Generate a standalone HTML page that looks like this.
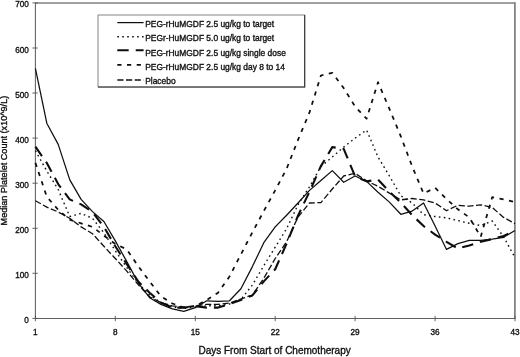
<!DOCTYPE html>
<html><head><meta charset="utf-8"><title>Median Platelet Count</title>
<style>
html,body{margin:0;padding:0;background:#fff;}
body{width:520px;height:357px;overflow:hidden;}
svg{display:block;}
text{font-family:"Liberation Sans", sans-serif;fill:#111;stroke:#111;stroke-width:0.34px;}
</style></head><body>
<svg width="520" height="357" viewBox="0 0 520 357">
<rect x="0" y="0" width="520" height="357" fill="#fff"/>
<defs><filter id="soft" x="0" y="0" width="520" height="357" filterUnits="userSpaceOnUse"><feGaussianBlur stdDeviation="0.32"/></filter></defs>
<g filter="url(#soft)">

<path d="M35.4 2.9 H514.9" fill="none" stroke="#808080" stroke-width="1.5"/>
<path d="M514.9 2.2 V318.4" fill="none" stroke="#7c7c7c" stroke-width="1.7"/>
<path d="M35.4 2.5 V318.4 H515.5" fill="none" stroke="#606060" stroke-width="1.05"/>
<line x1="32.4" x2="37.8" y1="318.4" y2="318.4" stroke="#555" stroke-width="0.9"/>
<text x="28.8" y="322.9" font-size="8.2" text-anchor="end">0</text>
<line x1="32.4" x2="37.8" y1="273.3" y2="273.3" stroke="#555" stroke-width="0.9"/>
<text x="28.8" y="277.8" font-size="8.2" text-anchor="end">100</text>
<line x1="32.4" x2="37.8" y1="228.3" y2="228.3" stroke="#555" stroke-width="0.9"/>
<text x="28.8" y="232.8" font-size="8.2" text-anchor="end">200</text>
<line x1="32.4" x2="37.8" y1="183.2" y2="183.2" stroke="#555" stroke-width="0.9"/>
<text x="28.8" y="187.7" font-size="8.2" text-anchor="end">300</text>
<line x1="32.4" x2="37.8" y1="138.1" y2="138.1" stroke="#555" stroke-width="0.9"/>
<text x="28.8" y="142.6" font-size="8.2" text-anchor="end">400</text>
<line x1="32.4" x2="37.8" y1="93.0" y2="93.0" stroke="#555" stroke-width="0.9"/>
<text x="28.8" y="97.5" font-size="8.2" text-anchor="end">500</text>
<line x1="32.4" x2="37.8" y1="48.0" y2="48.0" stroke="#555" stroke-width="0.9"/>
<text x="28.8" y="52.5" font-size="8.2" text-anchor="end">600</text>
<line x1="32.4" x2="37.8" y1="2.9" y2="2.9" stroke="#555" stroke-width="0.9"/>
<text x="28.8" y="7.4" font-size="8.2" text-anchor="end">700</text>
<line x1="35.4" x2="35.4" y1="315.8" y2="321.2" stroke="#555" stroke-width="0.9"/>
<text x="35.4" y="335.2" font-size="8.2" text-anchor="middle">1</text>
<line x1="115.3" x2="115.3" y1="315.8" y2="321.2" stroke="#555" stroke-width="0.9"/>
<text x="115.3" y="335.2" font-size="8.2" text-anchor="middle">8</text>
<line x1="195.3" x2="195.3" y1="315.8" y2="321.2" stroke="#555" stroke-width="0.9"/>
<text x="195.3" y="335.2" font-size="8.2" text-anchor="middle">15</text>
<line x1="275.2" x2="275.2" y1="315.8" y2="321.2" stroke="#555" stroke-width="0.9"/>
<text x="275.2" y="335.2" font-size="8.2" text-anchor="middle">22</text>
<line x1="355.1" x2="355.1" y1="315.8" y2="321.2" stroke="#555" stroke-width="0.9"/>
<text x="355.1" y="335.2" font-size="8.2" text-anchor="middle">29</text>
<line x1="435.1" x2="435.1" y1="315.8" y2="321.2" stroke="#555" stroke-width="0.9"/>
<text x="435.1" y="335.2" font-size="8.2" text-anchor="middle">36</text>
<line x1="515.0" x2="515.0" y1="315.8" y2="321.2" stroke="#555" stroke-width="0.9"/>
<text x="515.0" y="335.2" font-size="8.2" text-anchor="middle">43</text>
<text x="274.6" y="353.5" font-size="10" text-anchor="middle">Days From Start of Chemotherapy</text>
<text transform="translate(6.9,160.6) rotate(-90)" font-size="9.1" text-anchor="middle">Median Platelet Count (x10^9/L)</text>
<polyline points="35.4,200.8 46.8,207.1 58.2,212.0 69.7,218.3 81.1,226.9 92.5,233.7 103.9,246.3 115.3,258.5 126.8,271.1 138.2,284.6 149.6,296.8 161.0,302.6 172.4,305.8 183.8,307.1 195.3,305.8 206.7,304.4 218.1,304.4 229.5,303.1 240.9,299.0 252.4,295.0 263.8,278.3 275.2,258.5 286.6,241.8 298.0,217.0 309.5,203.0 320.9,202.6 332.3,189.0 343.7,176.0 355.1,173.3 366.6,180.9 378.0,186.3 389.4,193.1 400.8,199.9 412.2,198.5 423.6,199.9 435.1,203.0 446.5,210.7 457.9,205.3 469.3,206.2 480.7,204.8 492.2,207.5 503.6,217.4 515.0,223.7" fill="none" stroke="#111" stroke-linejoin="round" stroke-width="1.3" stroke-dasharray="6.2 2.5"/>
<polyline points="35.4,150.7 46.8,171.0 58.2,189.5 69.7,216.5 81.1,213.4 92.5,218.3 103.9,232.8 115.3,250.8 126.8,267.5 138.2,283.2 149.6,295.0 161.0,302.6 172.4,307.1 183.8,308.5 195.3,307.1 206.7,305.8 218.1,305.8 229.5,304.0 240.9,299.5 252.4,285.0 263.8,265.7 275.2,247.2 286.6,228.7 298.0,204.8 309.5,186.8 320.9,166.5 332.3,157.0 343.7,147.1 355.1,138.1 366.6,130.0 378.0,157.0 389.4,176.0 400.8,195.8 412.2,203.0 423.6,214.7 435.1,216.5 446.5,217.9 457.9,220.6 469.3,223.3 480.7,225.6 492.2,221.0 503.6,236.8 515.0,257.6" fill="none" stroke="#111" stroke-linejoin="round" stroke-width="1.4" stroke-dasharray="1.6 3.35"/>
<polyline points="35.4,146.7 46.8,162.9 58.2,184.1 69.7,199.4 81.1,204.4 92.5,212.0 103.9,226.9 115.3,246.3 126.8,264.3 138.2,281.4 149.6,292.7 161.0,302.6 172.4,307.6 183.8,307.6 195.3,306.2 206.7,307.6 218.1,307.6 229.5,304.0 240.9,299.9 252.4,295.4 263.8,281.4 275.2,269.3 286.6,243.6 298.0,215.6 309.5,191.7 320.9,166.1 332.3,147.1 343.7,148.9 355.1,176.4 366.6,181.4 378.0,179.6 389.4,191.7 400.8,202.6 412.2,215.2 423.6,226.0 435.1,234.6 446.5,241.8 457.9,248.5 469.3,245.4 480.7,241.8 492.2,239.1 503.6,235.9 515.0,231.0" fill="none" stroke="#111" stroke-linejoin="round" stroke-width="2.1" stroke-dasharray="11.4 7.0"/>
<polyline points="35.4,162.9 46.8,196.7 58.2,209.8 69.7,219.7 81.1,223.3 92.5,226.9 103.9,235.5 115.3,244.0 126.8,249.4 138.2,266.1 149.6,281.4 161.0,296.3 172.4,303.5 183.8,307.6 195.3,306.2 206.7,299.9 218.1,292.7 229.5,276.5 240.9,254.4 252.4,232.3 263.8,211.1 275.2,190.4 286.6,168.8 298.0,139.9 309.5,112.4 320.9,75.5 332.3,72.8 343.7,88.1 355.1,106.6 366.6,118.7 378.0,82.2 389.4,108.8 400.8,136.3 412.2,166.5 423.6,193.6 435.1,187.7 446.5,199.0 457.9,209.3 469.3,217.4 480.7,236.8 492.2,197.2 503.6,199.4 515.0,202.1" fill="none" stroke="#111" stroke-linejoin="round" stroke-width="1.75" stroke-dasharray="4.2 5.5"/>
<polyline points="35.4,68.3 46.8,123.2 58.2,144.4 69.7,179.6 81.1,199.4 92.5,211.6 103.9,221.5 115.3,240.9 126.8,261.6 138.2,282.8 149.6,297.7 161.0,304.4 172.4,308.9 183.8,311.4 195.3,307.6 206.7,300.8 218.1,301.3 229.5,300.8 240.9,288.7 252.4,266.6 263.8,242.7 275.2,226.9 286.6,215.2 298.0,203.0 309.5,190.4 320.9,180.5 332.3,170.6 343.7,182.3 355.1,176.0 366.6,181.4 378.0,192.2 389.4,202.1 400.8,214.3 412.2,211.1 423.6,203.0 435.1,226.0 446.5,249.4 457.9,243.6 469.3,240.4 480.7,240.4 492.2,239.1 503.6,237.3 515.0,230.5" fill="none" stroke="#111" stroke-linejoin="round" stroke-width="1.25"/>
<rect x="98" y="15" width="206.7" height="71.8" fill="#fff" stroke="#777" stroke-width="0.9"/>
<path d="M98 87.1 H304.7" fill="none" stroke="#555" stroke-width="1.4"/><path d="M304.7 87.6 V15" fill="none" stroke="#333" stroke-width="1.1"/>
<line x1="117.3" x2="143.6" y1="22.6" y2="22.6" stroke="#111" stroke-width="1.25"/>
<text x="145.2" y="26.8" font-size="8.42">PEG-rHuMGDF 2.5 ug/kg to target</text>
<line x1="117.3" x2="143.6" y1="36.7" y2="36.7" stroke="#111" stroke-width="1.4" stroke-dasharray="1.6 3.35"/>
<text x="145.2" y="41.2" font-size="8.42">PEGr-HuMGDF 5.0 ug/kg to target</text>
<line x1="117.3" x2="143.6" y1="50.3" y2="50.3" stroke="#111" stroke-width="2.1" stroke-dasharray="11.4 7.0"/>
<text x="145.2" y="55.6" font-size="8.42">PEG-rHuMGDF 2.5 ug/kg single dose</text>
<line x1="117.3" x2="143.6" y1="64.9" y2="64.9" stroke="#111" stroke-width="1.75" stroke-dasharray="4.2 5.5"/>
<text x="145.2" y="70.0" font-size="8.42">PEG-rHuMGDF 2.5 ug/kg day 8 to 14</text>
<line x1="117.3" x2="143.6" y1="80.0" y2="80.0" stroke="#111" stroke-width="1.3" stroke-dasharray="6.2 2.5"/>
<text x="145.2" y="84.4" font-size="8.42">Placebo</text>
</g></svg></body></html>
